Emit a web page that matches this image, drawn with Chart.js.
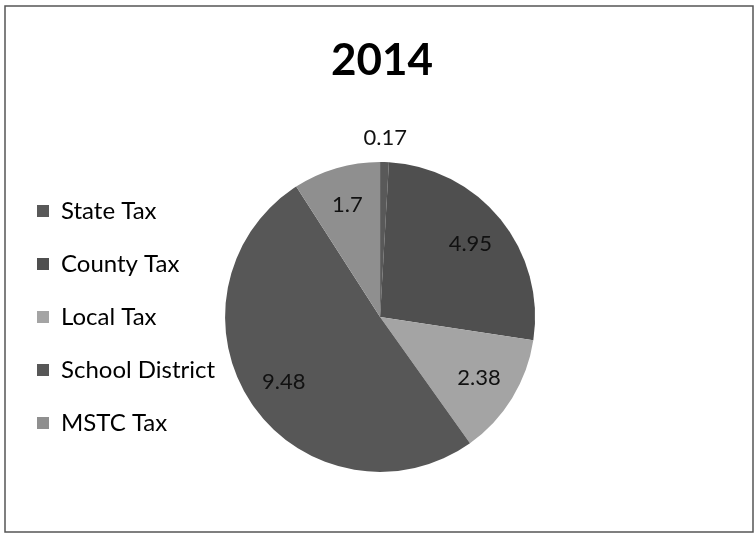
<!DOCTYPE html>
<html>
<head>
<meta charset="utf-8">
<script src="https://cdn.jsdelivr.net/npm/chart.js@4/dist/chart.umd.min.js"></script>
<style>
  html, body { margin: 0; padding: 0; background: #ffffff; }
  #wrap { width: 756px; height: 535px; position: relative; }
</style>
</head>
<body>
<div id="wrap"><canvas id="c" width="756" height="535"></canvas></div>
<script>
const chartTitle = "2014";
const categories = ["State Tax", "County Tax", "Local Tax", "School District", "MSTC Tax"];
const values = [0.17, 4.95, 2.38, 9.48, 1.7];
const valueLabels = ["0.17", "4.95", "2.38", "9.48", "1.7"];
const sliceColors = ["#595959", "#4f4f4f", "#a4a4a4", "#575757", "#8f8f8f"];

const frame = {
  id: "frame",
  beforeDraw(chart) {
    const ctx = chart.ctx;
    ctx.save();
    ctx.fillStyle = "#ffffff";
    ctx.fillRect(0, 0, chart.width, chart.height);
    ctx.strokeStyle = "#555555";
    ctx.lineWidth = 1.5;
    ctx.strokeRect(5, 6, 748, 526);
    ctx.restore();
  }
};

// leave empty room on the right of the plot area (title stays centred on the canvas)
const rightRoom = {
  id: "rightRoom",
  afterLayout(chart) {
    const room = 221;
    chart.chartArea.right -= room;
    chart.chartArea.width -= room;
  }
};

const sliceLabels = {
  id: "sliceLabels",
  afterDatasetsDraw(chart) {
    const ctx = chart.ctx;
    const meta = chart.getDatasetMeta(0);
    ctx.save();
    ctx.font = "22px Lato";
    ctx.fillStyle = "#111111";
    ctx.textAlign = "center";
    ctx.textBaseline = "middle";
    meta.data.forEach((arc, i) => {
      const p = arc.getProps(["x", "y", "startAngle", "endAngle", "outerRadius"], true);
      const mid = (p.startAngle + p.endAngle) / 2;
      const span = p.endAngle - p.startAngle;
      const r = span < 0.2 ? p.outerRadius + 24 : p.outerRadius * 0.75;
      ctx.fillText(valueLabels[i], p.x + Math.cos(mid) * r, p.y + Math.sin(mid) * r);
    });
    ctx.restore();
  }
};

new Chart(document.getElementById("c"), {
  type: "pie",
  data: {
    labels: categories,
    datasets: [{
      data: values,
      backgroundColor: sliceColors,
      borderColor: sliceColors,
      borderWidth: 0,
      radius: 155
    }]
  },
  options: {
    responsive: false,
    animation: false,
    layout: { padding: { left: 8, right: 0, top: 0, bottom: 4 } },
    plugins: {
      title: {
        display: true,
        text: chartTitle,
        color: "#000000",
        font: { family: "Lato", size: 44, weight: "bold" },
        padding: { top: 34, bottom: 16 }
      },
      legend: {
        position: "left",
        fullSize: false,
        labels: {
          color: "#000000",
          font: { family: "Lato", size: 24 },
          boxWidth: 12,
          boxHeight: 12,
          padding: 29
        }
      },
      tooltip: { enabled: false }
    }
  },
  plugins: [frame, rightRoom, sliceLabels]
});
</script>
</body>
</html>
